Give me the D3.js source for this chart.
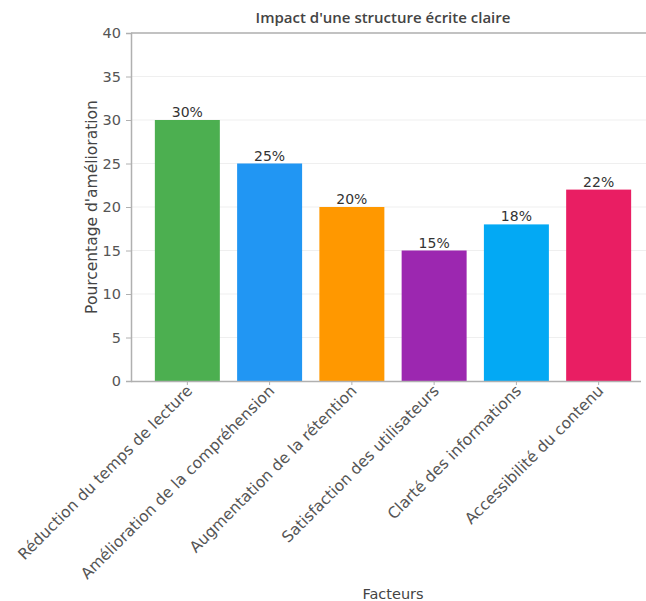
<!DOCTYPE html>
<html><head><meta charset="utf-8">
<script src="https://cdn.jsdelivr.net/npm/d3@7"></script>
<style>body{margin:0;background:#fff;} svg{display:block;}</style>
</head><body>
<svg id="c" width="646" height="601"></svg>
<script>
const categories = ["Réduction du temps de lecture","Amélioration de la compréhension","Augmentation de la rétention","Satisfaction des utilisateurs","Clarté des informations","Accessibilité du contenu"];
const values = [30, 25, 20, 15, 18, 22];
const colors = ["#4CAF50","#2196F3","#FF9800","#9C27B0","#03A9F4","#E91E63"];
const yTicks = [0,5,10,15,20,25,30,35,40];
const title = "Impact d'une structure écrite claire";
const xTitle = "Facteurs";
const yTitle = "Pourcentage d'amélioration";

const svg = d3.select("#c");
const L = 131, R = 655, T = 33, B = 381;
const font = "'DejaVu Sans', sans-serif";
const x = d3.scaleBand().domain(categories).range([L, R]).paddingInner(0.21).paddingOuter(0.29);
const y = d3.scaleLinear().domain([0, 40]).range([B, T]);

// grid
svg.append("g").selectAll("line").data(yTicks.slice(1)).join("line")
  .attr("x1", L).attr("x2", R).attr("y1", d => y(d)).attr("y2", d => y(d))
  .attr("stroke", "#efefef").attr("stroke-width", 1);
// top spine
svg.append("line").attr("x1", L).attr("x2", R).attr("y1", T).attr("y2", T).attr("stroke", "#b0b0b0").attr("stroke-width", 1.5);

// bars
svg.append("g").selectAll("rect").data(values).join("rect")
  .attr("x", (d, i) => x(categories[i])).attr("width", x.bandwidth())
  .attr("y", d => y(d)).attr("height", d => B - y(d))
  .attr("fill", (d, i) => colors[i]);

// value labels
svg.append("g").selectAll("text").data(values).join("text")
  .attr("x", (d, i) => x(categories[i]) + x.bandwidth() / 2).attr("y", d => y(d) - 3)
  .attr("text-anchor", "middle").attr("font-family", font).attr("font-size", 14)
  .attr("fill", "#333").text(d => d + "%");

// y axis
const ya = svg.append("g").attr("transform", `translate(${L},0)`)
  .call(d3.axisLeft(y).tickValues(yTicks).tickSize(5).tickPadding(5));
ya.select(".domain").attr("stroke", "#b0b0b0").attr("stroke-width", 1.5);
ya.selectAll(".tick line").attr("stroke", "#b0b0b0");
ya.selectAll("text").attr("font-family", font).attr("font-size", 14.5).attr("fill", "#555");

// x axis
const xa = svg.append("g").attr("transform", `translate(0,${B})`)
  .call(d3.axisBottom(x).tickSize(4).tickSizeOuter(0).tickPadding(4));
xa.select(".domain").attr("stroke", "#b0b0b0").attr("stroke-width", 1.5).attr("d", `M${L},0.5H${R - 14}`);
xa.selectAll(".tick line").attr("stroke", "#b0b0b0");
xa.selectAll("text").attr("font-family", font).attr("font-size", 15.5).attr("fill", "#555")
  .attr("text-anchor", "end").attr("transform", "translate(2,7) rotate(-45)").attr("dy", "0.35em").attr("y", 0).attr("x", 0);

// titles
svg.append("text").attr("x", 383).attr("y", 23).attr("text-anchor", "middle")
  .attr("font-family", "'Open Sans', sans-serif").attr("font-size", 15).attr("font-weight", 600).attr("fill", "#444").text(title);
svg.append("text").attr("x", 393).attr("y", 599).attr("text-anchor", "middle")
  .attr("font-family", font).attr("font-size", 14.5).attr("fill", "#444").text(xTitle);
svg.append("text").attr("transform", "translate(97,207) rotate(-90)").attr("text-anchor", "middle")
  .attr("font-family", font).attr("font-size", 15.5).attr("fill", "#444").text(yTitle);
</script>
</body></html>
